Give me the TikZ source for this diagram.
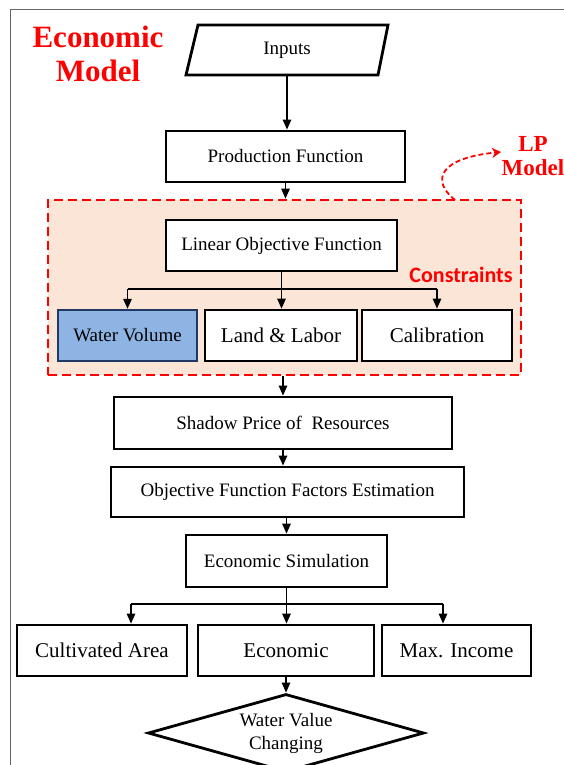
\documentclass[tikz,border=0pt]{standalone}
\usepackage{fontspec}
\setmainfont{Liberation Serif}
\newfontfamily\calfont{Carlito}
\usepackage{tikz}
\usetikzlibrary{arrows.meta}
\usetikzlibrary{shapes.geometric}
\usetikzlibrary{calc}
\definecolor{lpfill}{HTML}{FBE5D6}
\definecolor{wvfill}{HTML}{8EB4E3}
\definecolor{wvline}{HTML}{1F3864}
\tikzset{
  box/.style={draw, line width=2.8pt, inner sep=0pt, font=\fontsize{19}{22}\selectfont},
  bigbox/.style={box, font=\fontsize{21}{24}\selectfont},
  arr/.style={line width=1.3pt, -{Triangle[length=10pt,width=8.5pt]}},
  redtitle/.style={text=red, font=\fontsize{31}{35}\bfseries\selectfont, align=center}
}
\begin{document}
\begin{tikzpicture}[x=1pt, y=-1pt]
        \useasboundingbox (0,0) rectangle (564,765);
        \draw[gray!80!black, line width=0.9pt] (10,765) -- (10,9) -- (564,9);
        \node[redtitle] (title) at (98,54) {Economic\\[-1pt]Model};
        \draw[line width=2.8pt] (198,25) -- (388,25) -- (378,75) -- (186,75) -- cycle;
        \node[font=\fontsize{19}{22}\selectfont, minimum height=50pt, inner sep=0pt] (inputs) at (287,50) {Inputs};
        \node[box, minimum width=239pt, minimum height=51pt] (prod) at (285.5,156.5) {Production Function};
        \node[draw=red, fill=lpfill, dash pattern=on 9pt off 5pt, line width=2.8pt, minimum width=473pt, minimum height=175pt] (lpbox) at (284.5,287.5) {};
        \node[text=red, font=\fontsize{23}{26}\bfseries\selectfont, align=center] (lpmodel) at (533,156) {LP\\[-2pt]Model};
        \draw[red, line width=1.8pt, dash pattern=on 5pt off 3pt, -{Stealth[length=9pt,width=10pt]}] (455,200) .. controls (430,180) and (440,158) .. (501,152);
        \node[box, fill=white, minimum width=231pt, minimum height=51pt] (lof) at (281.5,245.5) {Linear Objective Function};
        \node[text=red, font=\calfont\fontsize{22}{24}\bfseries\selectfont] (cons) at (461,275) {Constraints};
        \node[box, fill=wvfill, draw=wvline, line width=2.4pt, minimum width=139pt, minimum height=51pt] (water) at (127.5,335.5) {Water Volume};
        \node[bigbox, fill=white, minimum width=152pt, minimum height=51pt] (land) at (281,335.5) {Land \& Labor};
        \node[bigbox, fill=white, minimum width=150pt, minimum height=51pt] (calib) at (437,335.5) {Calibration};
        \node[box, minimum width=338pt, minimum height=52pt] (shadow) at (283,423) {Shadow Price of\ \ Resources};
        \node[box, minimum width=353pt, minimum height=50pt] (factors) at (287.5,492) {Objective Function Factors Estimation};
        \node[box, minimum width=201pt, minimum height=52pt] (sim) at (286.5,561) {Economic Simulation};
        \node[bigbox, minimum width=170pt, minimum height=51pt] (area) at (102,650.5) {Cultivated Area};
        \node[bigbox, minimum width=176pt, minimum height=51pt] (econ) at (286,650.5) {Economic};
        \node[bigbox, minimum width=149pt, minimum height=51pt] (income) at (456.5,650.5) {Max. Income};
        \node[diamond, draw, line width=2.8pt, inner sep=0pt, aspect=3.5, minimum width=276pt, minimum height=78pt, align=center, font=\fontsize{19}{23}\selectfont] (wvc) at (286,733) {Water Value\\Changing};
        \draw[arr] (inputs.south) -- (inputs.south |- prod.north);
        \draw[arr] (prod.south) -- (prod.south |- lpbox.north);
        \draw[line width=1.3pt] (lof.south) -- (lof.south |- 0,289) coordinate (lofbar);
        \draw[line width=1.3pt] (water.north |- lofbar) -- (calib.north |- lofbar);
        \draw[arr] (water.north |- lofbar) -- (water.north);
        \draw[arr] (lofbar) -- (lofbar |- land.north);
        \draw[arr] (calib.north |- lofbar) -- (calib.north);
        \draw[arr] (shadow.north |- lpbox.south) -- (shadow.north);
        \draw[arr] (shadow.south) -- (shadow.south |- factors.north);
        \draw[arr] (sim.north |- factors.south) -- (sim.north);
        \coordinate (simbarl) at (131,604);
        \coordinate (simbarr) at (443,604);
        \draw[line width=1.3pt] (simbarl) -- (simbarr);
        \draw[arr] (sim.south) -- (sim.south |- econ.north);
        \draw[arr] (simbarl) -- (simbarl |- area.north);
        \draw[arr] (simbarr) -- (simbarr |- income.north);
        \draw[arr] (econ.south) -- (wvc.north);
        \end{tikzpicture}
\end{document}
